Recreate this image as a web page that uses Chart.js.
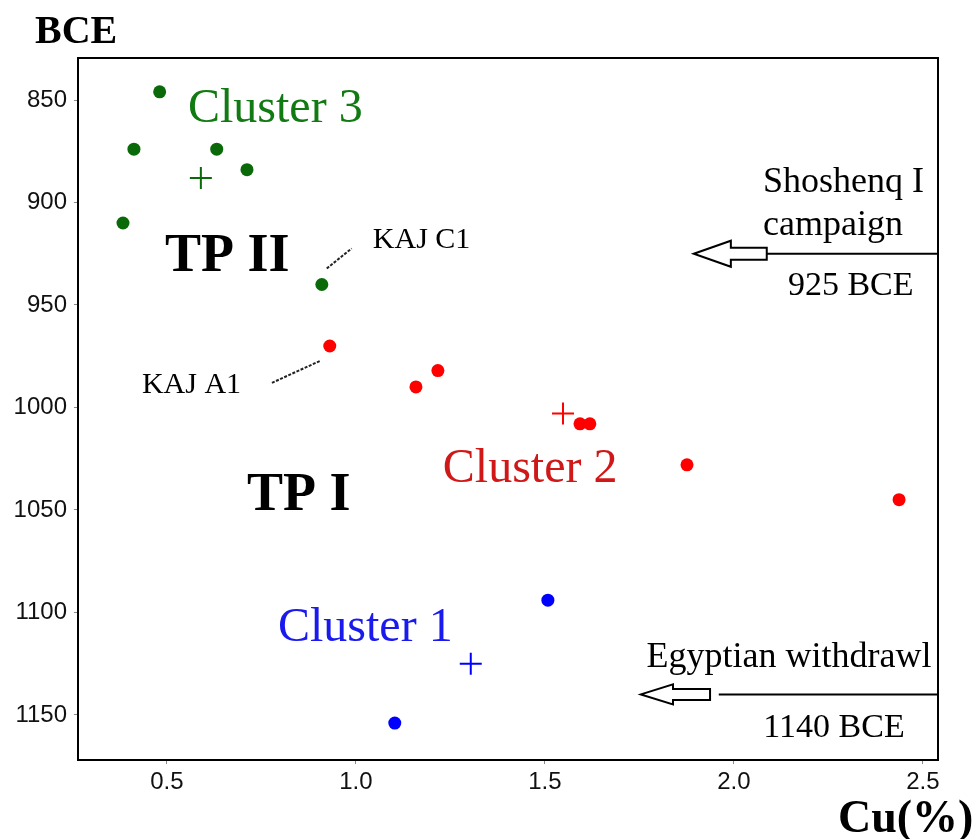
<!DOCTYPE html>
<html>
<head>
<meta charset="utf-8">
<script src="https://cdn.jsdelivr.net/npm/chart.js@4/dist/chart.umd.min.js"></script>
<style>
html,body{margin:0;padding:0;background:#fff;}
#wrap{width:977px;height:839px;}
</style>
</head>
<body>
<div id="wrap"><canvas id="c" width="977" height="839"></canvas></div>
<script>
// ---- data (Cu %, date BCE) ----
const cluster1Cu = [1.508, 1.103];
const cluster1BCE = [1094, 1154];
const cluster1CentroidCu = [1.304];
const cluster1CentroidBCE = [1125];

const cluster2Cu = [0.931, 1.159, 1.217, 1.593, 1.619, 1.876, 2.437];
const cluster2BCE = [970, 990, 982, 1008, 1008, 1028, 1045];
const cluster2CentroidCu = [1.548];
const cluster2CentroidBCE = [1003];

const cluster3Cu = [0.481, 0.413, 0.632, 0.712, 0.384, 0.910];
const cluster3BCE = [846, 874, 874, 884, 910, 940];
const cluster3CentroidCu = [0.590];
const cluster3CentroidBCE = [888];

const xTicks = [0.5, 1.0, 1.5, 2.0, 2.5];
const yTicks = [850, 900, 950, 1000, 1050, 1100, 1150];

const eventDates = [925, 1140];

function pts(xs, ys){ return xs.map((x,i)=>({x:x, y:ys[i]})); }

const GREEN = '#0a6a0a', RED = '#ff0000', BLUE = '#0000ff';

// annotation texts in data coordinates
const texts = [
  {t:'Cluster 3', x:0.556, y:860.7, font:'48px "Liberation Serif"', color:'#127a12'},
  {t:'TP II', x:0.495, y:933.4, font:'bold 54px "Liberation Serif"', color:'#000'},
  {t:'KAJ C1', x:1.045, y:922.2, font:'30px "Liberation Serif"', color:'#000'},
  {t:'KAJ A1', x:0.434, y:992.8, font:'30px "Liberation Serif"', color:'#000'},
  {t:'TP I', x:0.712, y:1050, font:'bold 54px "Liberation Serif"', color:'#000'},
  {t:'Cluster 2', x:1.230, y:1036.3, font:'48px "Liberation Serif"', color:'#d01818'},
  {t:'Cluster 1', x:0.794, y:1113.9, font:'48px "Liberation Serif"', color:'#1a1aee'},
  {t:'Shoshenq I', x:2.077, y:894.7, font:'36px "Liberation Serif"', color:'#000'},
  {t:'campaign', x:2.077, y:915.9, font:'36px "Liberation Serif"', color:'#000'},
  {t:'925 BCE', x:2.143, y:945.1, font:'34px "Liberation Serif"', color:'#000'},
  {t:'Egyptian withdrawl', x:1.769, y:1126.4, font:'36px "Liberation Serif"', color:'#000'},
  {t:'1140 BCE', x:2.078, y:1160.9, font:'34px "Liberation Serif"', color:'#000'}
];
const leaders = [
  {x1:0.923, y1:932.2, x2:0.989, y2:922.4},
  {x1:0.778, y1:988.0, x2:0.905, y2:977.3}
];
// arrows: tip, head base, tail, line start (Cu), at event date
const arrows = [
  {y:eventDates[0], tip:1.894, head:1.992, tail:2.087, line:2.087, hh:13, bh:6},
  {y:eventDates[1], tip:1.754, head:1.839, tail:1.937, line:1.960, hh:10, bh:5.5}
];

const annot = {
  id:'annot',
  beforeDraw(chart){
    const ctx = chart.ctx;
    ctx.save(); ctx.fillStyle='#fff'; ctx.fillRect(0,0,chart.width,chart.height); ctx.restore();
  },
  afterDatasetsDraw(chart){
    const ctx = chart.ctx, xs = chart.scales.x, ys = chart.scales.y, a = chart.chartArea;
    ctx.save();
    // box top/right
    ctx.strokeStyle='#000'; ctx.lineWidth=2;
    ctx.beginPath();
    ctx.moveTo(a.left, a.top); ctx.lineTo(a.right, a.top); ctx.lineTo(a.right, a.bottom);
    ctx.stroke();
    // texts
    ctx.textBaseline='alphabetic'; ctx.textAlign='left';
    texts.forEach(o=>{
      ctx.font=o.font; ctx.fillStyle=o.color;
      ctx.fillText(o.t, xs.getPixelForValue(o.x), ys.getPixelForValue(o.y));
    });
    // leader lines
    ctx.strokeStyle='#222'; ctx.lineWidth=2; ctx.setLineDash([3,1.5]);
    leaders.forEach(l=>{
      ctx.beginPath();
      ctx.moveTo(xs.getPixelForValue(l.x1), ys.getPixelForValue(l.y1));
      ctx.lineTo(xs.getPixelForValue(l.x2), ys.getPixelForValue(l.y2));
      ctx.stroke();
    });
    ctx.setLineDash([]);
    // arrows
    arrows.forEach(ar=>{
      const y = ys.getPixelForValue(ar.y);
      const tip = xs.getPixelForValue(ar.tip), hd = xs.getPixelForValue(ar.head), tl = xs.getPixelForValue(ar.tail), ln = xs.getPixelForValue(ar.line);
      ctx.lineWidth=2; ctx.strokeStyle='#000';
      ctx.beginPath();
      ctx.moveTo(ln, y); ctx.lineTo(a.right, y); ctx.stroke();
      ctx.beginPath();
      ctx.moveTo(tip, y);
      ctx.lineTo(hd, y-ar.hh);
      ctx.lineTo(hd, y-ar.bh);
      ctx.lineTo(tl, y-ar.bh);
      ctx.lineTo(tl, y+ar.bh);
      ctx.lineTo(hd, y+ar.bh);
      ctx.lineTo(hd, y+ar.hh);
      ctx.closePath();
      ctx.fillStyle='#fff'; ctx.fill();
      ctx.stroke();
    });
    // axis titles
    ctx.fillStyle='#000';
    ctx.font='bold 40px "Liberation Serif"';
    ctx.fillText('BCE', 35, 43);
    ctx.font='bold 46px "Liberation Serif"';
    ctx.fillText('Cu(%)', 838, 832);
    ctx.restore();
  }
};

new Chart(document.getElementById('c'), {
  type:'scatter',
  data:{
    datasets:[
      {data:pts(cluster3Cu, cluster3BCE), pointStyle:'circle', pointRadius:6.5, pointHoverRadius:6.5, backgroundColor:GREEN, borderColor:GREEN, borderWidth:0},
      {data:pts(cluster3CentroidCu, cluster3CentroidBCE), pointStyle:'cross', pointRadius:11, pointHoverRadius:11, borderColor:GREEN, borderWidth:2},
      {data:pts(cluster2Cu, cluster2BCE), pointStyle:'circle', pointRadius:6.5, pointHoverRadius:6.5, backgroundColor:RED, borderColor:RED, borderWidth:0},
      {data:pts(cluster2CentroidCu, cluster2CentroidBCE), pointStyle:'cross', pointRadius:11, pointHoverRadius:11, borderColor:RED, borderWidth:2},
      {data:pts(cluster1Cu, cluster1BCE), pointStyle:'circle', pointRadius:6.5, pointHoverRadius:6.5, backgroundColor:BLUE, borderColor:BLUE, borderWidth:0},
      {data:pts(cluster1CentroidCu, cluster1CentroidBCE), pointStyle:'cross', pointRadius:11, pointHoverRadius:11, borderColor:BLUE, borderWidth:2}
    ]
  },
  options:{
    responsive:false, animation:false, devicePixelRatio:1,
    plugins:{legend:{display:false}, tooltip:{enabled:false}},
    layout:{padding:{top:58, right:39, left:0, bottom:0}},
    scales:{
      x:{
        type:'linear', min:0.265, max:2.54,
        afterBuildTicks(s){ s.ticks = xTicks.map(v=>({value:v})); },
        afterFit(s){ s.height = 79; },
        grid:{drawOnChartArea:false, drawTicks:true, tickLength:4, color:'#888'},
        border:{display:true, color:'#000', width:2},
        ticks:{color:'#111', font:{family:'"Liberation Sans"', size:24}, padding:4, maxRotation:0,
          callback:v=>Number(v).toFixed(1)}
      },
      y:{
        type:'linear', reverse:true, min:829.5, max:1172,
        afterBuildTicks(s){ s.ticks = yTicks.map(v=>({value:v})); },
        afterFit(s){ s.width = 78; },
        grid:{drawOnChartArea:false, drawTicks:true, tickLength:4, color:'#888'},
        border:{display:true, color:'#000', width:2},
        ticks:{color:'#111', font:{family:'"Liberation Sans"', size:24}, padding:7,
          callback:v=>String(v)}
      }
    }
  },
  plugins:[annot]
});
</script>
</body>
</html>
